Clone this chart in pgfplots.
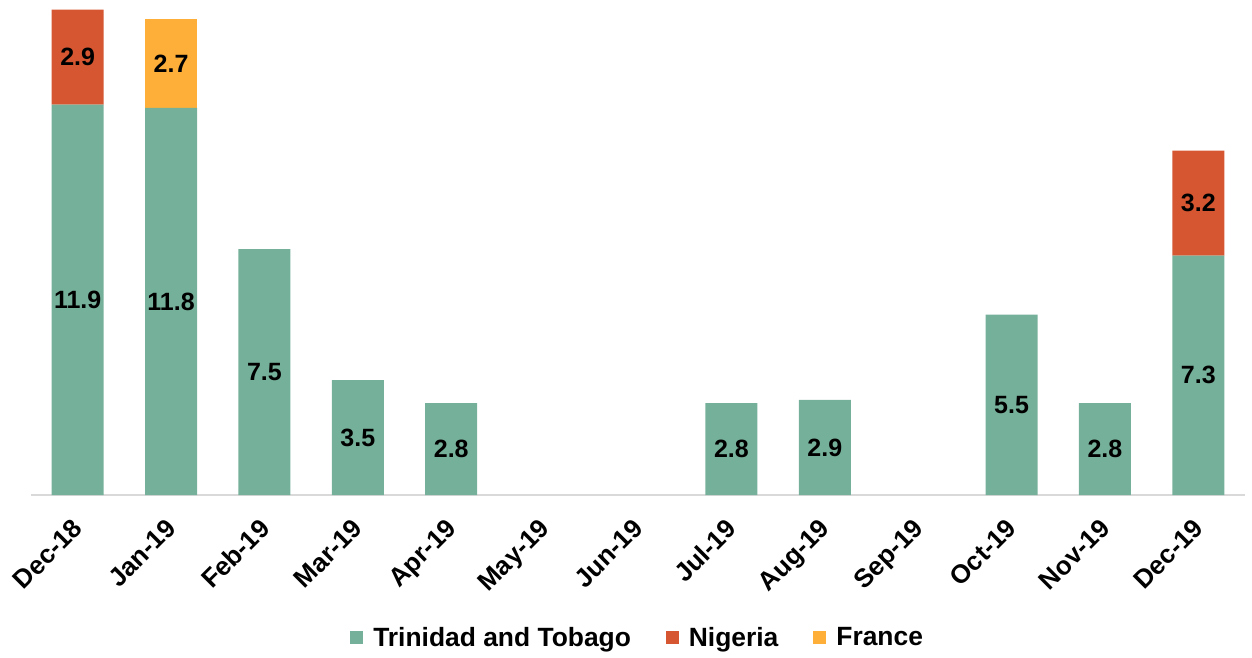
\documentclass[border=0pt]{standalone}
\usepackage{fontspec}
\setmainfont{Liberation Sans}
\usepackage{pgfplots}
\usepackage{pgfplotstable}
\pgfplotsset{compat=1.18}
\definecolor{tt}{HTML}{75B09A}
\definecolor{ng}{HTML}{D55631}
\definecolor{fr}{HTML}{FDAF3A}
\definecolor{axgray}{HTML}{D9D9D9}

\pgfplotstableread{
x  tt    ng   fr
0  11.9  2.9  0
1  11.8  0    2.7
2  7.5   0    0
3  3.5   0    0
4  2.8   0    0
5  0     0    0
6  0     0    0
7  2.8   0    0
8  2.9   0    0
9  0     0    0
10 5.5   0    0
11 2.8   0    0
12 7.3   3.2  0
}\data

\begin{document}
\begin{tikzpicture}
\begin{axis}[
    name=ax,
    ybar stacked,
    scale only axis,
    width=607pt, height=246pt,
    bar width=26pt,
    xmin=-0.5, xmax=12.5,
    ymin=0, ymax=15,
    axis y line=none,
    axis x line*=bottom,
    x axis line style={draw=axgray, line width=1pt, -},
    xtick={0,...,12},
    xticklabels={Dec-18,Jan-19,Feb-19,Mar-19,Apr-19,May-19,Jun-19,Jul-19,Aug-19,Sep-19,Oct-19,Nov-19,Dec-19},
    major tick length=0pt,
    x tick label style={rotate=45, anchor=north east, font=\bfseries\fontsize{13}{14}\selectfont, inner sep=2pt, xshift=-8pt, yshift=-3.4pt},
    point meta=rawy,
    /pgf/number format/assume math mode=true,
    nodes near coords={\pgfmathfloatifflags{\pgfplotspointmeta}{0}{}{\pgfmathprintnumber[fixed,precision=1,fixed zerofill]{\pgfplotspointmeta}}},
    every node near coord/.append style={anchor=center, font=\bfseries\fontsize{12.5}{13}\selectfont, text=black},
    legend style={at={(0.5005,-0.2907)}, anchor=center, draw=none, legend columns=3,
        font=\bfseries\fontsize{13.2}{14}\selectfont,
        /tikz/every odd column/.append style={column sep=3pt},
        /tikz/every even column/.append style={column sep=15.5pt}},
    legend image code/.code={\fill[#1] (0pt,-3.2pt) rectangle (6.5pt,3.3pt);},
]
\addplot[fill=tt, draw=none] table[x=x, y=tt] {\data};
\addplot[fill=ng, draw=none] table[x=x, y=ng] {\data};
\addplot[fill=fr, draw=none] table[x=x, y=fr] {\data};
\legend{Trinidad and Tobago, Nigeria, France}
\end{axis}
\path ([xshift=-15.5pt,yshift=-77.5pt]ax.south west) rectangle ([xshift=3.5pt,yshift=1.5pt]ax.north east);
\end{tikzpicture}
\end{document}
